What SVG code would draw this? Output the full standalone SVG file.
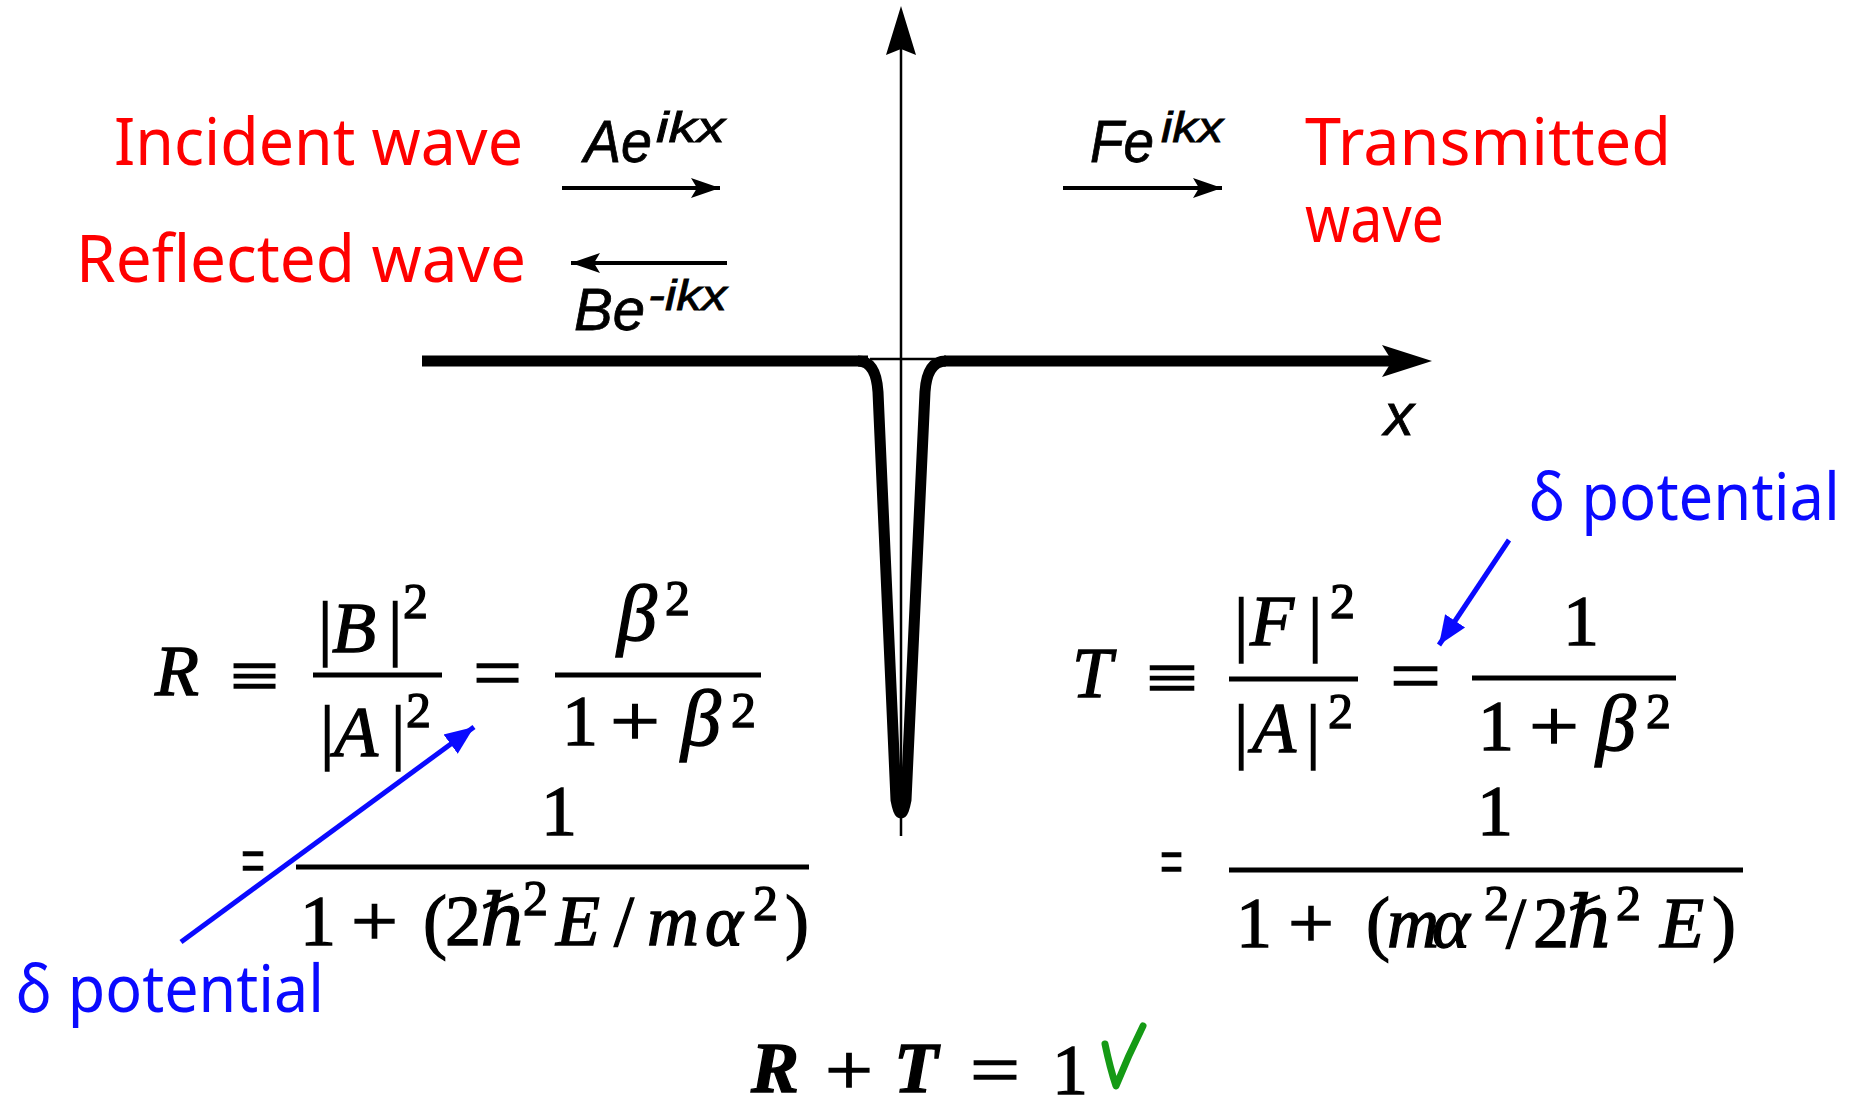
<svg xmlns="http://www.w3.org/2000/svg" width="1852" height="1105" viewBox="0 0 1852 1105">
<defs>
<style>
.cm{font-family:"Noto Sans","DejaVu Sans",sans-serif;font-size:66px;}
.red{fill:#ff0000;}
.blue{fill:#0a0aff;}
.w{font-family:"Liberation Sans",Arial,sans-serif;font-style:italic;fill:#000;font-size:60px;stroke:#000;stroke-width:0.8px;}
.ws{font-size:42px;}
.m{font-family:"Liberation Serif","DejaVu Serif",serif;font-size:72px;fill:#000;stroke:#000;stroke-width:1.3px;}
.i{font-style:italic;}
.s{font-size:50px;}
.bar{stroke:#000;stroke-width:5;}
.warr{stroke:#000;stroke-width:4;fill:none;}
.barr{stroke:#0a0aff;stroke-width:5;fill:none;}
</style>
<marker id="hk" markerUnits="userSpaceOnUse" markerWidth="32" markerHeight="22" refX="29" refY="11" orient="auto"><path d="M0,1 L29,11 L0,21 L6,11 Z" fill="#000"/></marker>
<marker id="hb" markerUnits="userSpaceOnUse" markerWidth="32" markerHeight="26" refX="29" refY="13" orient="auto"><path d="M0,1 L29,13 L0,25 Z" fill="#0a0aff"/></marker>
</defs>
<rect width="1852" height="1105" fill="#fff"/>

<g id="axes">
<line x1="422" y1="361" x2="868" y2="361" stroke="#000" stroke-width="11"/>
<line x1="944" y1="361" x2="1392" y2="361" stroke="#000" stroke-width="11"/>
<line x1="870" y1="359" x2="935" y2="359" stroke="#000" stroke-width="2.5"/>
<polygon points="1432,361 1382,345 1392,361 1382,377" fill="#000"/>
<line x1="901" y1="48" x2="901" y2="836" stroke="#000" stroke-width="2.5"/>
<polygon points="901,6 886,55 901,49 916,55" fill="#000"/>
<path d="M858,361 Q876,361 878,392 L896,800 Q901,826 906,800 L925,392 Q927,361 946,361" fill="none" stroke="#000" stroke-width="11" stroke-linejoin="round"/>
<text class="w" x="1384" y="435">x</text>
</g>

<g id="incident-label"><text class="cm red" x="114" y="165" textLength="409" lengthAdjust="spacingAndGlyphs">Incident wave</text></g>
<g id="reflected-label"><text class="cm red" x="76" y="282" textLength="450" lengthAdjust="spacingAndGlyphs">Reflected wave</text></g>
<g id="transmitted-label"><text class="cm red" x="1305" y="165" textLength="366" lengthAdjust="spacingAndGlyphs">Transmitted</text><text class="cm red" x="1305" y="242" textLength="139" lengthAdjust="spacingAndGlyphs">wave</text></g>

<g id="wave-A"><text class="w" x="584" y="162" textLength="68" lengthAdjust="spacingAndGlyphs">Ae</text><text class="w ws" x="656" y="142" textLength="69" lengthAdjust="spacingAndGlyphs">ikx</text></g>
<g id="wave-B"><text class="w" x="574" y="330" textLength="71" lengthAdjust="spacingAndGlyphs">Be</text><text class="w ws" x="648" y="310" textLength="79" lengthAdjust="spacingAndGlyphs">-ikx</text></g>
<g id="wave-F"><text class="w" x="1090" y="162" textLength="64" lengthAdjust="spacingAndGlyphs">Fe</text><text class="w ws" x="1161" y="142" textLength="62" lengthAdjust="spacingAndGlyphs">ikx</text></g>

<g id="formula-R">
<text class="m i" x="155" y="695">R</text>
<text class="m" x="230" y="700" textLength="49" lengthAdjust="spacingAndGlyphs">≡</text>
<line class="bar" x1="313" y1="675" x2="442" y2="675"/>
<text class="m" x="318" y="652">|</text><text class="m i" x="332" y="652">B</text><text class="m" x="388" y="652">|</text><text class="m s" x="403" y="618">2</text>
<text class="m" x="320" y="756">|</text><text class="m i" x="334" y="756">A</text><text class="m" x="391" y="756">|</text><text class="m s" x="406" y="727">2</text>
<text class="m" x="473" y="697" textLength="49" lengthAdjust="spacingAndGlyphs">=</text>
<line class="bar" x1="555" y1="675" x2="761" y2="675"/>
<text class="m i" x="617" y="640" style="font-size:80px">β</text><text class="m s" x="665" y="615">2</text>
<text class="m" x="562" y="745">1</text>
<text class="m" x="610" y="745" textLength="50" lengthAdjust="spacingAndGlyphs">+</text>
<text class="m i" x="681" y="745" style="font-size:80px">β</text><text class="m s" x="731" y="727">2</text>
</g>

<g id="formula-R2">
<text class="m" x="241" y="885" textLength="24" lengthAdjust="spacingAndGlyphs">=</text>
<line class="bar" x1="296" y1="867" x2="809" y2="867"/>
<text class="m" x="541" y="835">1</text>
<text class="m" x="300" y="945">1</text>
<text class="m" x="351" y="945" textLength="47" lengthAdjust="spacingAndGlyphs">+</text>
<text class="m" x="423" y="945">(</text>
<text class="m" x="445" y="945">2</text>
<text class="m i" x="480" y="945">ℏ</text>
<text class="m s" x="523" y="915">2</text>
<text class="m i" x="556" y="945">E</text>
<text class="m" x="614" y="945">/</text>
<text class="m i" x="647" y="945">m</text>
<text class="m i" x="705" y="945">α</text>
<text class="m s" x="753" y="920">2</text>
<text class="m" x="785" y="945">)</text>
</g>

<g id="formula-T">
<text class="m i" x="1072" y="697">T</text>
<text class="m" x="1146" y="702" textLength="52" lengthAdjust="spacingAndGlyphs">≡</text>
<line class="bar" x1="1229" y1="679" x2="1358" y2="679"/>
<text class="m" x="1234" y="648">|</text><text class="m i" x="1250" y="645">F</text><text class="m" x="1308" y="648">|</text><text class="m s" x="1330" y="618">2</text>
<text class="m" x="1234" y="755">|</text><text class="m i" x="1252" y="752">A</text><text class="m" x="1306" y="755">|</text><text class="m s" x="1328" y="728">2</text>
<text class="m" x="1390" y="700" textLength="51" lengthAdjust="spacingAndGlyphs">=</text>
<line class="bar" x1="1472" y1="678" x2="1676" y2="678"/>
<text class="m" x="1563" y="645">1</text>
<text class="m" x="1478" y="750">1</text>
<text class="m" x="1529" y="750" textLength="50" lengthAdjust="spacingAndGlyphs">+</text>
<text class="m i" x="1596" y="750" style="font-size:80px">β</text><text class="m s" x="1646" y="728">2</text>
</g>

<g id="formula-T2">
<text class="m" x="1160" y="886" textLength="23" lengthAdjust="spacingAndGlyphs">=</text>
<line class="bar" x1="1229" y1="870" x2="1743" y2="870"/>
<text class="m" x="1477" y="835">1</text>
<text class="m" x="1236" y="947">1</text>
<text class="m" x="1288" y="947" textLength="46" lengthAdjust="spacingAndGlyphs">+</text>
<text class="m" x="1366" y="947">(</text>
<text class="m i" x="1387" y="947">m</text>
<text class="m i" x="1432" y="947">α</text>
<text class="m s" x="1484" y="920">2</text>
<text class="m" x="1506" y="947">/</text>
<text class="m" x="1533" y="947">2</text>
<text class="m i" x="1567" y="947">ℏ</text>
<text class="m s" x="1616" y="920">2</text>
<text class="m i" x="1660" y="947">E</text>
<text class="m" x="1712" y="947">)</text>
</g>

<g id="formula-sum">
<text class="m i" x="751" y="1092" style="font-weight:bold">R</text>
<text class="m" x="825" y="1094" textLength="48" lengthAdjust="spacingAndGlyphs">+</text>
<text class="m i" x="894" y="1092" style="font-weight:bold">T</text>
<text class="m" x="970" y="1094" textLength="50" lengthAdjust="spacingAndGlyphs">=</text>
<text class="m" x="1052" y="1094">1</text>
<path d="M1105,1044 Q1110,1068 1116,1086 Q1128,1056 1143,1026" fill="none" stroke="#159a15" stroke-width="7" stroke-linecap="round" stroke-linejoin="round"/>
</g>

<g id="delta-label-left"><text class="cm blue" x="16" y="1012" textLength="308" lengthAdjust="spacingAndGlyphs">δ potential</text></g>
<g id="delta-label-right"><text class="cm blue" x="1529" y="520" textLength="311" lengthAdjust="spacingAndGlyphs">δ potential</text></g>

<g id="connectors">
<line class="warr" x1="562" y1="188" x2="720" y2="188" marker-end="url(#hk)"/>
<line class="warr" x1="727" y1="263" x2="571" y2="263" marker-end="url(#hk)"/>
<line class="warr" x1="1063" y1="188" x2="1222" y2="188" marker-end="url(#hk)"/>
<line class="barr" x1="181" y1="942" x2="474" y2="727" marker-end="url(#hb)"/>
<line class="barr" x1="1509" y1="540" x2="1439" y2="645" marker-end="url(#hb)"/>
</g>
</svg>
